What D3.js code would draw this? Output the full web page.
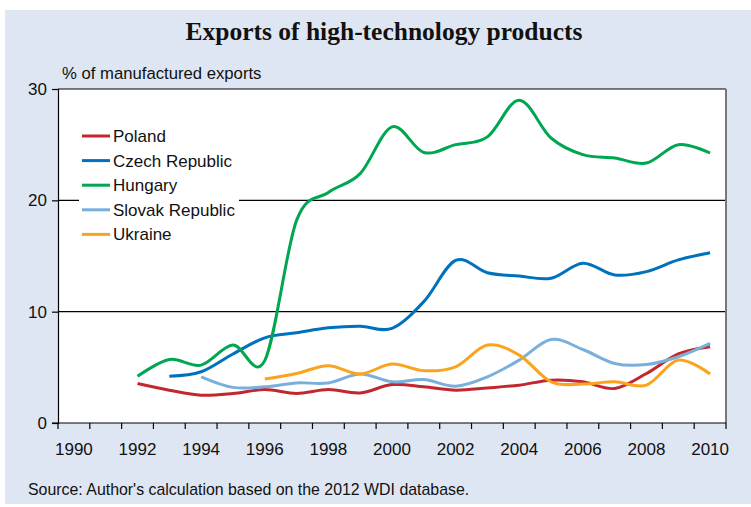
<!DOCTYPE html>
<html>
<head>
<meta charset="utf-8">
<script src="https://cdn.jsdelivr.net/npm/d3@7"></script>
<style>
	body { margin: 0; background: #ffffff; }
	svg { display: block; }
	text { font-family: "Liberation Sans", Arial, sans-serif; fill: #111; }
</style>
</head>
<body>
<svg width="751" height="507"></svg>
<script>
// ---- data ----
const years = d3.range(1990, 2011);
const yTicks = [0, 10, 20, 30];

const poland = [
	[1992, 3.55], [1993, 2.95], [1994, 2.5], [1995, 2.65], [1996, 3.0], [1997, 2.65],
	[1998, 3.0], [1999, 2.7], [2000, 3.45], [2001, 3.25], [2002, 2.95], [2003, 3.15],
	[2004, 3.4], [2005, 3.85], [2006, 3.7], [2007, 3.1], [2008, 4.45], [2009, 6.2], [2010, 6.85]
];
const czech = [
	[1993, 4.2], [1994, 4.6], [1995, 6.2], [1996, 7.65], [1997, 8.1], [1998, 8.55],
	[1999, 8.7], [2000, 8.5], [2001, 10.9], [2002, 14.6], [2003, 13.5], [2004, 13.2],
	[2005, 13.0], [2006, 14.35], [2007, 13.3], [2008, 13.6], [2009, 14.65], [2010, 15.3]
];
const hungary = [
	[1992, 4.2], [1993, 5.7], [1994, 5.2], [1995, 7.0], [1996, 5.6], [1997, 18.2],
	[1998, 20.7], [1999, 22.4], [2000, 26.6], [2001, 24.3], [2002, 25.0], [2003, 25.7],
	[2004, 29.0], [2005, 25.6], [2006, 24.1], [2007, 23.8], [2008, 23.35], [2009, 25.0], [2010, 24.25]
];
const slovak = [
	[1994, 4.15], [1995, 3.2], [1996, 3.25], [1997, 3.6], [1998, 3.6], [1999, 4.4],
	[2000, 3.7], [2001, 3.9], [2002, 3.3], [2003, 4.15], [2004, 5.65], [2005, 7.5],
	[2006, 6.6], [2007, 5.35], [2008, 5.25], [2009, 5.95], [2010, 7.15]
];
const ukraine = [
	[1996, 3.95], [1997, 4.45], [1998, 5.15], [1999, 4.4], [2000, 5.3], [2001, 4.7],
	[2002, 5.05], [2003, 7.0], [2004, 6.1], [2005, 3.7], [2006, 3.5], [2007, 3.7],
	[2008, 3.4], [2009, 5.65], [2010, 4.4]
];

const seriesNames = ["Poland", "Czech Republic", "Hungary", "Slovak Republic", "Ukraine"];
const seriesData = [poland, czech, hungary, slovak, ukraine];
const seriesColors = ["#c1272d", "#0071bc", "#00a650", "#7aafdb", "#fba31c"];

// ---- layout ----
const svg = d3.select("svg");
const plotLeft = 58, plotRight = 726, plotTop = 89, plotBottom = 423;

// background panel
svg.append("rect").attr("x", 5).attr("y", 10).attr("width", 746).attr("height", 494)
	.style("fill", "#dfe6f3");

// plot area
svg.append("rect").attr("x", plotLeft).attr("y", plotTop)
	.attr("width", plotRight - plotLeft).attr("height", plotBottom - plotTop)
	.style("fill", "white");

const x = d3.scaleBand().domain(years).range([plotLeft, plotRight]);
const y = d3.scaleLinear().domain([0, 30]).range([plotBottom, plotTop]);

// title
svg.append("text").attr("x", 384).attr("y", 40).attr("text-anchor", "middle")
	.style("font-family", "'Liberation Serif', 'Times New Roman', serif")
	.style("font-weight", "bold").style("font-size", "25.5px")
	.text("Exports of high-technology products");

svg.append("text").attr("x", 62).attr("y", 79).style("font-size", "16.7px")
	.text("% of manufactured exports");

// gridlines at 10 and 20, top border at 30
svg.selectAll("line.grid").data(yTicks.filter(d => d > 0)).enter().append("line")
	.attr("class", "grid")
	.attr("x1", plotLeft).attr("x2", plotRight)
	.attr("y1", d => y(d)).attr("y2", d => y(d))
	.style("stroke", "black").style("stroke-width", 1.2);

// right border (grey)
svg.append("line").attr("x1", plotRight).attr("x2", plotRight).attr("y1", plotTop).attr("y2", plotBottom)
	.style("stroke", "#777").style("stroke-width", 2);

// y axis
const yAxis = d3.axisLeft(y).tickValues(yTicks).tickSize(6).tickPadding(5);
const gy = svg.append("g").attr("transform", "translate(" + plotLeft + ",0)").call(yAxis);
gy.selectAll("text").style("font-size", "17px").style("font-family", "'Liberation Sans', Arial, sans-serif");
gy.selectAll("path, line").style("stroke", "black").style("stroke-width", 1.2);

// x axis: ticks at category boundaries, labels every other year in the middle of the slot
const xLin = d3.scaleLinear().domain([1990, 2011]).range([plotLeft, plotRight]);
const gx = svg.append("g").attr("transform", "translate(0," + plotBottom + ")");
gx.append("line").attr("x1", plotLeft - 6).attr("x2", plotRight).style("stroke", "black").style("stroke-width", 1.2);
gx.selectAll("line.tick").data(d3.range(1990, 2012)).enter().append("line")
	.attr("class", "tick")
	.attr("x1", d => xLin(d)).attr("x2", d => xLin(d))
	.attr("y1", 0).attr("y2", 6)
	.style("stroke", "black").style("stroke-width", 1.2);
gx.selectAll("text").data(years.filter(d => d % 2 === 0)).enter().append("text")
	.attr("x", d => x(d) + x.bandwidth() / 2).attr("y", 32)
	.attr("text-anchor", "middle").style("font-size", "17px")
	.text(d => d);

// lines
const line = d3.line()
	.x(d => x(d[0]) + x.bandwidth() / 2)
	.y(d => y(d[1]))
	.curve(d3.curveCatmullRom.alpha(0));

svg.selectAll("path.series").data(seriesData).enter().append("path")
	.attr("class", "series")
	.attr("d", line)
	.style("fill", "none")
	.style("stroke", (d, i) => seriesColors[i])
	.style("stroke-width", 3);

// legend
svg.append("rect").attr("x", 79).attr("y", 123).attr("width", 160).attr("height", 124)
	.style("fill", "white");
const lg = svg.selectAll("g.legend").data(seriesNames).enter().append("g")
	.attr("class", "legend")
	.attr("transform", (d, i) => "translate(82," + (136 + i * 24.6) + ")");
lg.append("line").attr("x1", 0).attr("x2", 28).attr("y1", 0).attr("y2", 0)
	.style("stroke", (d, i) => seriesColors[i]).style("stroke-width", 3);
lg.append("text").attr("x", 31).attr("y", 6).style("font-size", "17px").text(d => d);

// source
svg.append("text").attr("x", 28).attr("y", 495).style("font-size", "15.9px")
	.text("Source: Author's calculation based on the 2012 WDI database.");
</script>
</body>
</html>
